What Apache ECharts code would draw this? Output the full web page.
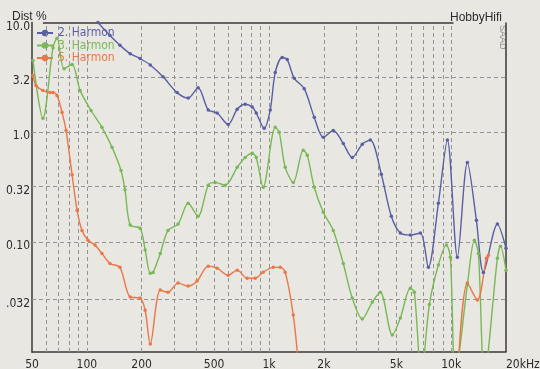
<!DOCTYPE html>
<html>
<head>
<meta charset="utf-8">
<script src="https://cdn.jsdelivr.net/npm/echarts@6/dist/echarts.min.js"></script>
<style>html,body{margin:0;padding:0;background:#e9e7e2}#c{width:540px;height:369px}</style>
</head>
<body>
<div id="c"></div>
<script>
// ---- data ----
const freqTicks = [50, 100, 200, 500, 1000, 2000, 5000, 10000, 20000];
const freqTickLabels = ['50', '100', '200', '500', '1k', '2k', '5k', '10k', '20kHz'];
const freqGrid = [60, 70, 80, 90, 100, 200, 300, 400, 500, 600, 700, 800, 900, 1000,
  2000, 3000, 4000, 5000, 6000, 7000, 8000, 9000, 10000];
const distTicks = [10, 3.2, 1.0, 0.32, 0.10, 0.032];
const distTickLabels = ['10.0', '3.2', '1.0', '0.32', '0.10', '.032'];
const seriesNames = ['2. Harmon', '3. Harmon', '5. Harmon'];

const harm2Freq = [115,134,152,173,196,223,262,313,360,408,464,519,597,669,740,809,851,941,1016,1082,
  1182,1259,1376,1561,1772,1986,2253,2557,2865,3252,3598,4136,4693,5260,5970,6774,7496,8508,9533,10820,
  12277,13757,15030,17940,20000];
const harm2Dist = [10,7.6,6.2,5.2,4.7,4.1,3.2,2.3,2.05,2.55,1.6,1.5,1.18,1.62,1.8,1.7,1.5,1.09,1.6,3.5,
  4.8,4.6,3.1,2.5,1.37,0.9,1.04,0.79,0.59,0.78,0.85,0.415,0.172,0.121,0.116,0.121,0.059,0.226,0.85,0.073,
  0.53,0.158,0.053,0.146,0.088];

const harm3Freq = [50.6,57.4,65.2,68.6,75,83,91.8,105.5,121,137.6,154,162,173,196,209,223,231,253,279,317,
  360,408,464,506,575,669,740,809,851,929,1082,1138,1228,1359,1542,1622,1772,1986,2253,2557,
  2865,3252,3690,4084,4753,5260,5970,6279,6859,7591,8508,9412,9900,10550,12277,13410,14110,15220,17940,18640,20000];
const harm3Dist = [4.5,1.34,5.9,7.2,3.8,4.15,2.41,1.58,1.11,0.73,0.45,0.3,0.143,0.134,0.085,0.052,0.053,0.079,0.128,0.146,
  0.226,0.172,0.33,0.35,0.33,0.48,0.59,0.645,0.59,0.316,1.11,1.0,0.48,0.35,0.686,0.62,0.316,0.187,0.128,0.064,
  0.031,0.020,0.0285,0.035,0.0143,0.0204,0.038,0.035,0.006,0.027,0.062,0.094,0.073,0.006,0.041,0.104,0.079,0.006,0.0715,0.092,0.0556];

const harm5Freq = [50.6,52.6,57.4,62.8,65.2,68.6,73.1,76.9,83,88.4,94.1,101.5,110.9,121,134,152,173,196,209,223,
  253,279,317,360,403,464,519,597,669,759,840,929,1055,1152,1228,1359,1447,4000,10960,12277,13930,15610,16010];
const harm5Dist = [3.3,2.67,2.41,2.31,2.31,2.17,1.52,1.04,0.41,0.195,0.128,0.104,0.094,0.079,0.064,0.059,0.0316,0.031,0.024,0.0118,
  0.0366,0.035,0.0424,0.0398,0.0442,0.0605,0.058,0.050,0.0556,0.047,0.047,0.0533,0.059,0.059,0.0533,0.0217,0.008,null,0.008,0.0424,0.0297,0.0715,0.0762];

// ---- styling ----
const colors = ['#5a5ea4', '#78b956', '#ec7646'];
const narrow = "'Liberation Sans Narrow','Arial Narrow','DejaVu Sans Condensed',sans-serif";
const regular = "'Liberation Sans',Arial,sans-serif";
const ink = '#2b2b2b';

function pairs(fx, fy) { return fx.map((f, i) => [f, fy[i] == null ? '-' : fy[i]]); }

const gridLineStyle = { color: '#939393', type: [4, 3], width: 1 };
const borderStyle = { color: '#3a3a3a', type: 'solid', width: 1.5 };
const hidden = { color: 'rgba(0,0,0,0)', width: 0.1 };

const gridLines = [];
freqGrid.forEach(f => gridLines.push({ xAxis: f, lineStyle: gridLineStyle }));
distTicks.slice(1).forEach(d => gridLines.push({ yAxis: d, lineStyle: gridLineStyle }));
gridLines.push({ xAxis: 20000, lineStyle: borderStyle });
gridLines.push([{ coord: [57.4, 10], lineStyle: borderStyle }, { coord: [10300, 10] }]);

const xLabelItems = freqTicks.map((f, i) => {
  const it = { xAxis: f, name: freqTickLabels[i] };
  if (i === freqTicks.length - 1) it.label = { align: 'left' };
  return it;
});
const yLabelItems = distTicks.map((d, i) => ({ yAxis: d, name: distTickLabels[i] }));

const lineSeries = [harm2Freq, harm3Freq, harm5Freq].map((fx, k) => ({
  name: seriesNames[k],
  type: 'line',
  data: pairs(fx, [harm2Dist, harm3Dist, harm5Dist][k]),
  smooth: 0.3,
  connectNulls: false,
  showAllSymbol: true,
  symbol: 'circle',
  symbolSize: 3.5,
  clip: true,
  z: 5,
  lineStyle: { color: colors[k], width: 1.4 },
  itemStyle: { color: colors[k] }
}));

const chart = echarts.init(document.getElementById('c'), null, { renderer: 'canvas' });
chart.setOption({
  animation: false,
  backgroundColor: '#e9e7e2',
  title: [
    { text: 'Dist %', left: 7, top: 6, textStyle: { fontFamily: regular, fontSize: 12, fontWeight: 'normal', color: ink } },
    { text: 'HobbyHifi', right: 33, top: 7, textStyle: { fontFamily: regular, fontSize: 12, fontWeight: 'normal', color: ink } }
  ],
  graphic: [{
    type: 'text', x: 502, y: 25, rotation: -Math.PI / 2,
    style: { text: 'SAAD', fill: '#8a8a8a', font: '9px ' + regular, textAlign: 'left', textVerticalAlign: 'middle' }
  }],
  legend: {
    orient: 'vertical', left: 36, top: 27, padding: 0,
    itemWidth: 16, itemHeight: 8, itemGap: 0.5,
    textStyle: { fontFamily: narrow, fontSize: 12, lineHeight: 12 },
    data: seriesNames.map((n, k) => ({ name: n, textStyle: { color: colors[k] } }))
  },
  grid: { left: 32, right: 34, top: 22.5, bottom: 17, containLabel: false },
  xAxis: {
    type: 'log', logBase: 10, min: 50, max: 20000,
    axisLine: { show: true, onZero: false, lineStyle: { color: '#3a3a3a', width: 1.5 } },
    axisTick: { show: false }, axisLabel: { show: false }, splitLine: { show: false }
  },
  yAxis: {
    type: 'log', logBase: 10, min: 0.01, max: 10,
    axisLine: { show: true, lineStyle: { color: '#3a3a3a', width: 1.5 } },
    axisTick: { show: false }, axisLabel: { show: false }, splitLine: { show: false }
  },
  series: [
    {
      name: '_grid', type: 'line', data: [], z: 1,
      markLine: { silent: true, symbol: 'none', animation: false, label: { show: false }, data: gridLines }
    },
    {
      name: '_xlabels', type: 'line', data: [], z: 1,
      markLine: {
        silent: true, symbol: 'none', animation: false,
        lineStyle: hidden,
        label: { show: true, position: 'start', formatter: '{b}', distance: 7, color: ink, fontFamily: narrow, fontSize: 12 },
        data: xLabelItems
      }
    },
    {
      name: '_ylabels', type: 'line', data: [], z: 1,
      markLine: {
        silent: true, symbol: 'none', animation: false,
        lineStyle: hidden,
        label: { show: true, position: 'start', formatter: '{b}', distance: 2, verticalAlign: 'top', lineHeight: 8, color: ink, fontFamily: narrow, fontSize: 12 },
        data: yLabelItems
      }
    }
  ].concat(lineSeries)
});
</script>
</body>
</html>
